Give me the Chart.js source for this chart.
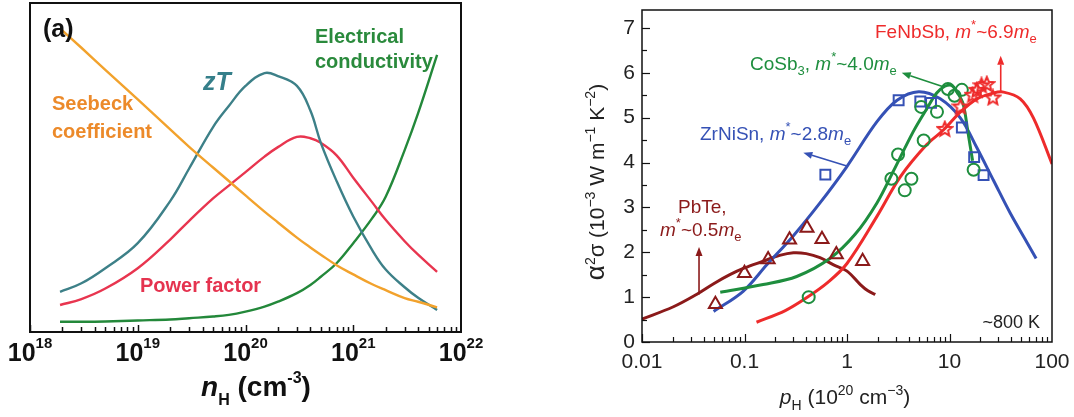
<!DOCTYPE html>
<html>
<head>
<meta charset="utf-8">
<script src="https://cdn.jsdelivr.net/npm/chart.js@4.4.1/dist/chart.umd.min.js"></script>
<style>
body { margin: 0; background: #fff; }
#wrap { position: relative; width: 1074px; height: 417px; }
#chartA { position: absolute; left: 0; top: 0; }
#chartB { position: absolute; left: 560px; top: 0; }
</style>
</head>
<body>
<div id="wrap">
  <canvas id="chartA" width="520" height="417"></canvas>
  <canvas id="chartB" width="514" height="417"></canvas>
</div>
<script>
// ---- panel (a): schematic curves vs carrier concentration (arbitrary units) ----
const nH = [1.9e18, 3e18, 5e18, 1e19, 2e19, 3e19, 5e19, 7e19, 1e20, 1.5e20, 2e20, 3e20, 4e20, 5e20, 7e20, 1e21, 1.5e21, 2e21, 3e21, 4e21, 6e21];
const seebeck = [92.3, 86.4, 79.7, 70.7, 61.6, 56.3, 50.0, 45.9, 41.5, 36.6, 33.3, 28.7, 25.7, 23.5, 20.3, 17.5, 14.5, 12.7, 10.3, 9.2, 7.5];
const zT = [12.2, 14.8, 19.4, 27.0, 39.8, 49.7, 62.3, 68.7, 74.8, 78.7, 77.8, 74.8, 67.3, 57.5, 45.9, 35.1, 24.9, 19.0, 13.6, 10.4, 6.7];
const powerFactor = [8.2, 10.0, 13.2, 19.4, 28.1, 33.8, 40.6, 44.5, 48.6, 53.3, 56.2, 59.3, 58.9, 57.5, 53.7, 46.9, 39.4, 34.1, 27.6, 23.5, 18.3];
const conductivity = [3.1, 3.1, 3.2, 3.5, 3.8, 4.2, 4.7, 5.2, 6.2, 7.7, 9.2, 11.8, 14.3, 16.8, 20.9, 27.0, 34.6, 41.1, 55.3, 66.5, 84.2];
const expTicks = [18, 19, 20, 21, 22];

// ---- panel (b): power factor vs Hall carrier concentration ----
const pbteP = [0.01, 0.02, 0.034, 0.05, 0.072, 0.1, 0.152, 0.22, 0.30, 0.40, 0.545, 0.74, 1.0, 1.35, 1.6, 1.89];
const pbteFit = [0.51, 0.78, 1.06, 1.30, 1.50, 1.65, 1.80, 1.93, 1.99, 1.97, 1.88, 1.72, 1.58, 1.28, 1.14, 1.06];
const zrnisnP = [0.05, 0.097, 0.165, 0.30, 0.545, 0.99, 1.96, 3.08, 5.0, 8.13, 12.8, 18.5, 26.9, 39.2, 57, 70];
const zrnisnFit = [0.68, 1.13, 1.72, 2.37, 3.10, 3.90, 4.91, 5.39, 5.58, 5.42, 4.99, 4.33, 3.60, 2.87, 2.22, 1.86];
const cosbP = [0.058, 0.152, 0.323, 0.68, 1.2, 1.96, 2.85, 4.43, 6.0, 7.5, 9.0, 10.5, 12.0, 13.6, 15.1, 16.8];
const cosbFit = [1.11, 1.28, 1.46, 1.86, 2.40, 3.10, 3.82, 4.69, 5.20, 5.55, 5.70, 5.72, 5.55, 5.30, 4.69, 4.04];
const fenbsbP = [0.131, 0.25, 0.405, 0.65, 1.0, 1.96, 3.31, 6.0, 8.77, 12.8, 18.5, 26.9, 33.7, 49, 66, 100];
const fenbsbFit = [0.44, 0.70, 0.99, 1.33, 1.75, 2.80, 3.68, 4.40, 4.73, 5.13, 5.42, 5.55, 5.57, 5.42, 4.99, 3.97];

const pbteMarkP = [0.052, 0.1, 0.17, 0.275, 0.407, 0.57, 0.787, 1.42];
const pbteMark = [0.84, 1.53, 1.84, 2.28, 2.54, 2.29, 1.95, 1.80];
const zrnisnMarkP = [0.615, 3.19, 5.19, 6.6, 13.2, 17.4, 21.5];
const zrnisnMark = [3.73, 5.39, 5.36, 5.33, 4.78, 4.12, 3.72];
const cosbMarkP = [0.423, 2.71, 3.15, 3.66, 4.25, 5.6, 5.3, 7.55, 9.66, 11.2, 13.2, 17.2];
const cosbMark = [1.0, 3.64, 4.18, 3.38, 3.64, 4.49, 5.24, 5.13, 5.64, 5.49, 5.62, 3.84];
const fenbsbMarkP = [9.0, 12.8, 16.8, 18.5, 20.5, 23.1, 26.5];
const fenbsbMark = [4.75, 5.25, 5.51, 5.62, 5.72, 5.75, 5.45];
const xTicksB = [0.01, 0.1, 1, 10, 100];
const yTicksB = [0, 1, 2, 3, 4, 5, 6, 7];

const FF = '"Liberation Sans", Arial, Helvetica, sans-serif';
const pts = (xs, ys) => xs.map((x, i) => ({ x: x, y: ys[i] }));

// draw a run of text pieces: [text, font, dy, color]
function rich(ctx, segs, x, y, align, color) {
  let w = 0;
  segs.forEach(s => { ctx.font = s[1]; w += ctx.measureText(s[0]).width; });
  let cx = align === 'center' ? x - w / 2 : align === 'right' ? x - w : x;
  ctx.textAlign = 'left';
  ctx.textBaseline = 'alphabetic';
  segs.forEach(s => {
    ctx.font = s[1];
    ctx.fillStyle = s[3] || color;
    ctx.fillText(s[0], cx, y + (s[2] || 0));
    cx += ctx.measureText(s[0]).width;
  });
}

function arrow(ctx, x1, y1, x2, y2, color) {
  const ang = Math.atan2(y2 - y1, x2 - x1);
  const hl = 9, hw = 3.5;
  ctx.strokeStyle = color; ctx.fillStyle = color; ctx.lineWidth = 1.6;
  ctx.beginPath();
  ctx.moveTo(x1, y1);
  ctx.lineTo(x2 - hl * Math.cos(ang), y2 - hl * Math.sin(ang));
  ctx.stroke();
  ctx.beginPath();
  ctx.moveTo(x2, y2);
  ctx.lineTo(x2 - hl * Math.cos(ang) + hw * Math.sin(ang), y2 - hl * Math.sin(ang) - hw * Math.cos(ang));
  ctx.lineTo(x2 - hl * Math.cos(ang) - hw * Math.sin(ang), y2 - hl * Math.sin(ang) + hw * Math.cos(ang));
  ctx.closePath();
  ctx.fill();
}

// Panel (a)
const panelA = {
  id: 'panelA',
  afterDraw(chart) {
    const { ctx, chartArea: a, scales: { x } } = chart;
    ctx.save();
    ctx.strokeStyle = '#111';
    ctx.lineWidth = 1.5;
    for (let e = 18; e < 22; e++) {
      for (let m = 1; m < 10; m++) {
        const px = Math.round(x.getPixelForValue(m * Math.pow(10, e))) + 0.5;
        ctx.beginPath();
        ctx.moveTo(px, a.bottom);
        ctx.lineTo(px, a.bottom - (m === 1 ? 7 : 5));
        ctx.stroke();
      }
    }
    ctx.lineWidth = 2;
    ctx.strokeRect(a.left, a.top, a.right - a.left, a.bottom - a.top);

    expTicks.forEach(e => {
      const px = x.getPixelForValue(Math.pow(10, e));
      rich(ctx, [['10', 'bold 25px ' + FF, 0], [String(e), 'bold 15px ' + FF, -13]], px, 361, 'center', '#111');
    });
    rich(ctx, [['n', 'italic bold 28px ' + FF, 0], ['H', 'bold 16px ' + FF, 9], [' (cm', 'bold 28px ' + FF, 0],
      ['-3', 'bold 16px ' + FF, -13], [')', 'bold 28px ' + FF, 0]], 256, 396, 'center', '#111');

    rich(ctx, [['(a)', 'bold 25px ' + FF, 0]], 43, 37, 'left', '#111');
    rich(ctx, [['Electrical', 'bold 20px ' + FF, 0]], 315, 43, 'left', '#2a8a3c');
    rich(ctx, [['conductivity', 'bold 20px ' + FF, 0]], 315, 68, 'left', '#2a8a3c');
    rich(ctx, [['zT', 'italic bold 25px ' + FF, 0]], 203, 90, 'left', '#357f8a');
    rich(ctx, [['Seebeck', 'bold 20px ' + FF, 0]], 52, 110, 'left', '#ec8a2a');
    rich(ctx, [['coefficient', 'bold 20px ' + FF, 0]], 52, 138, 'left', '#ec8a2a');
    rich(ctx, [['Power factor', 'bold 20px ' + FF, 0]], 140, 292, 'left', '#e5334f');
    ctx.restore();
  }
};

const lineA = (label, data, color) => ({
  label: label, data: data, borderColor: color, borderWidth: 2.4,
  pointRadius: 0, tension: 0.4, fill: false
});

new Chart(document.getElementById('chartA'), {
  type: 'line',
  data: {
    labels: nH,
    datasets: [
      lineA('Seebeck coefficient', seebeck, '#f2a22c'),
      lineA('zT', zT, '#3d8088'),
      lineA('Power factor', powerFactor, '#e8354f'),
      lineA('Electrical conductivity', conductivity, '#23883a')
    ]
  },
  options: {
    responsive: false,
    animation: false,
    devicePixelRatio: 1,
    layout: { padding: { left: 30, right: 59, top: 3, bottom: 85 } },
    scales: {
      x: { type: 'logarithmic', min: 1e18, max: 1e22, display: false },
      y: { type: 'linear', min: 0, max: 100, display: false }
    },
    plugins: { legend: { display: false }, tooltip: { enabled: false } }
  },
  plugins: [panelA]
});

// Panel (b)
const starImg = document.createElement('canvas');
starImg.width = 18; starImg.height = 18;
(function () {
  const c = starImg.getContext('2d');
  c.beginPath();
  for (let i = 0; i < 10; i++) {
    const r = i % 2 === 0 ? 7.5 : 3.4;
    const t = -Math.PI / 2 + i * Math.PI / 5;
    const px = 9 + r * Math.cos(t), py = 9.5 + r * Math.sin(t);
    if (i === 0) c.moveTo(px, py); else c.lineTo(px, py);
  }
  c.closePath();
  c.strokeStyle = '#ee2b2b';
  c.lineWidth = 2;
  c.stroke();
})();

const panelB = {
  id: 'panelB',
  afterDraw(chart) {
    const { ctx, chartArea: a, scales: { x, y } } = chart;
    ctx.save();
    ctx.strokeStyle = '#111';
    ctx.lineWidth = 1.2;
    for (let e = -2; e < 2; e++) {
      for (let m = 1; m < 10; m++) {
        const px = Math.round(x.getPixelForValue(m * Math.pow(10, e))) + 0.5;
        ctx.beginPath();
        ctx.moveTo(px, a.bottom);
        ctx.lineTo(px, a.bottom - (m === 1 ? 8 : 5));
        ctx.stroke();
      }
    }
    for (let v = 0; v <= 7; v += 0.5) {
      const py = Math.round(y.getPixelForValue(v)) + 0.5;
      ctx.beginPath();
      ctx.moveTo(a.left, py);
      ctx.lineTo(a.left + (v % 1 === 0 ? 8 : 5), py);
      ctx.stroke();
    }
    ctx.lineWidth = 1.5;
    ctx.strokeRect(a.left, a.top, a.right - a.left, a.bottom - a.top);

    ctx.fillStyle = '#222';
    ctx.font = '21px ' + FF;
    ctx.textAlign = 'center';
    ctx.textBaseline = 'top';
    xTicksB.forEach(v => ctx.fillText(String(v), x.getPixelForValue(v), 352));
    ctx.textAlign = 'right';
    ctx.textBaseline = 'middle';
    yTicksB.forEach(v => ctx.fillText(String(v), a.left - 7, y.getPixelForValue(v)));

    rich(ctx, [['p', 'italic 21px ' + FF, 0], ['H', '14px ' + FF, 6], [' (10', '21px ' + FF, 0], ['20', '14px ' + FF, -9],
      [' cm', '21px ' + FF, 0], ['\u22123', '14px ' + FF, -9], [')', '21px ' + FF, 0]], 285, 404, 'center', '#222');

    ctx.save();
    ctx.translate(44, 182);
    ctx.rotate(-Math.PI / 2);
    rich(ctx, [['\u03b1', '26px ' + FF, 0], ['2', '14px ' + FF, -9], ['\u03c3', '22px ' + FF, 0], [' (10', '21px ' + FF, 0],
      ['\u22123', '14px ' + FF, -9], [' W m', '21px ' + FF, 0], ['\u22121', '14px ' + FF, -9], [' K', '21px ' + FF, 0],
      ['\u22122', '14px ' + FF, -9], [')', '21px ' + FF, 0]], 0, 0, 'center', '#222');
    ctx.restore();

    const F = '19px ' + FF, FI = 'italic 19px ' + FF, FS = '13px ' + FF;
    const lab = (name, val, color, x0, y0, sub) => {
      const segs = [[name, F, 0]];
      if (sub) segs.push([sub, FS, 5]);
      segs.push([', ', F, 0], ['m', FI, 0], ['*', FS, -9], ['~' + val, F, 0], ['m', FI, 0], ['e', FS, 5]);
      rich(ctx, segs, x0, y0, 'left', color);
    };
    lab('FeNbSb', '6.9', '#ee2b2b', 315, 38);
    lab('CoSb', '4.0', '#1e8e3e', 190, 70, '3');
    lab('ZrNiSn', '2.8', '#3551b5', 140, 140);
    rich(ctx, [['PbTe,', F, 0]], 118, 213, 'left', '#8b1a1a');
    rich(ctx, [['m', FI, 0], ['*', FS, -9], ['~0.5', F, 0], ['m', FI, 0], ['e', FS, 5]], 100, 236, 'left', '#8b1a1a');
    rich(ctx, [['~800 K', '18px ' + FF, 0]], 480, 328, 'right', '#222');

    const X = v => x.getPixelForValue(v), Y = v => y.getPixelForValue(v);
    arrow(ctx, X(31.6), Y(5.55), X(31.6), Y(6.38), '#ee2b2b');
    arrow(ctx, X(8.7), Y(5.69), X(3.42), Y(6.0), '#1e8e3e');
    arrow(ctx, X(0.978), Y(3.93), X(0.375), Y(4.22), '#3551b5');
    arrow(ctx, X(0.036), Y(1.06), X(0.036), Y(2.12), '#8b1a1a');
    ctx.restore();
  }
};

const fitB = (label, xs, ys, color) => ({
  type: 'line', label: label, data: pts(xs, ys), borderColor: color, borderWidth: 3,
  pointRadius: 0, tension: 0.35, fill: false
});
const markB = (label, xs, ys, color, style, r) => ({
  type: 'scatter', label: label, data: pts(xs, ys), borderColor: color, backgroundColor: 'rgba(0,0,0,0)',
  borderWidth: 2, pointStyle: style, pointRadius: r
});

new Chart(document.getElementById('chartB'), {
  type: 'scatter',
  data: {
    datasets: [
      markB('FeNbSb data', fenbsbMarkP, fenbsbMark, '#ee2b2b', starImg, 8),
      markB('CoSb3 data', cosbMarkP, cosbMark, '#1e8e3e', 'circle', 6),
      markB('ZrNiSn data', zrnisnMarkP, zrnisnMark, '#3551b5', 'rect', 7),
      markB('PbTe data', pbteMarkP, pbteMark, '#8b1a1a', 'triangle', 7.5),
      fitB('FeNbSb', fenbsbP, fenbsbFit, '#ee2b2b'),
      fitB('CoSb3', cosbP, cosbFit, '#1e8e3e'),
      fitB('ZrNiSn', zrnisnP, zrnisnFit, '#3551b5'),
      fitB('PbTe', pbteP, pbteFit, '#8b1a1a')
    ]
  },
  options: {
    responsive: false,
    animation: false,
    devicePixelRatio: 1,
    layout: { padding: { left: 82, right: 22, top: 3, bottom: 75 } },
    scales: {
      x: { type: 'logarithmic', min: 0.01, max: 100, display: false },
      y: { type: 'linear', min: 0, max: 7.4, display: false }
    },
    plugins: { legend: { display: false }, tooltip: { enabled: false } }
  },
  plugins: [panelB]
});
</script>
</body>
</html>
